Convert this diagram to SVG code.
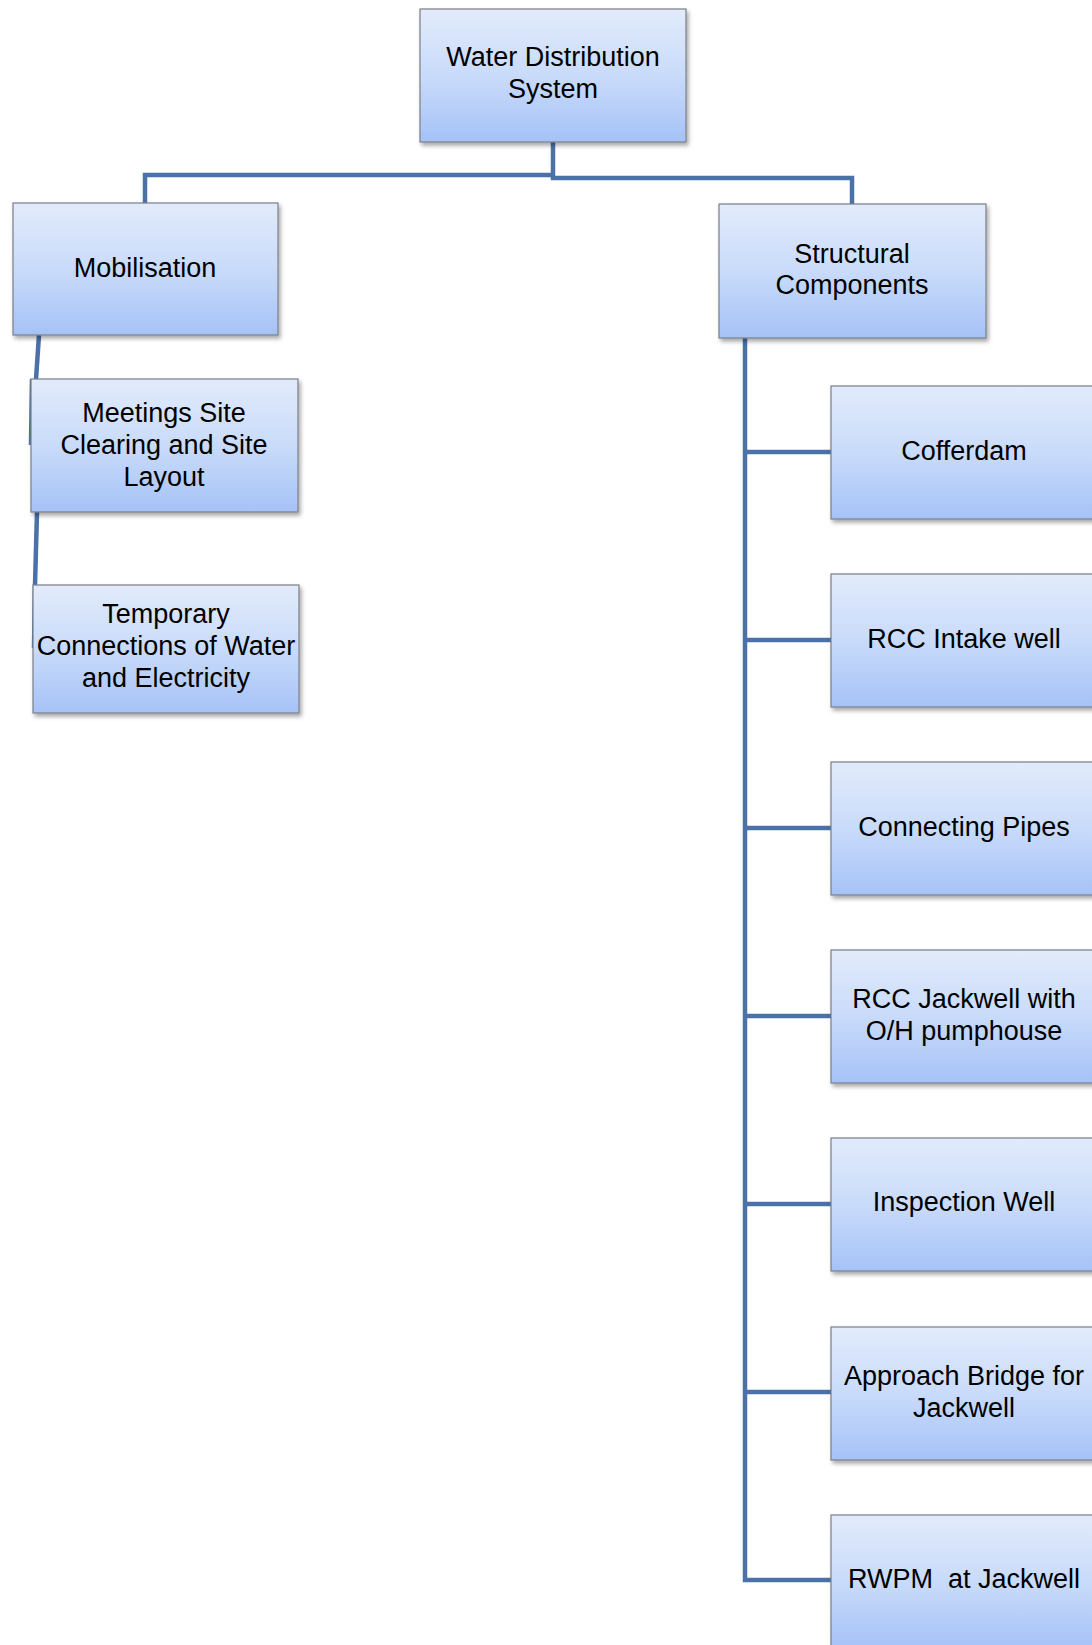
<svg xmlns="http://www.w3.org/2000/svg" width="1092" height="1645" viewBox="0 0 1092 1645">
<defs>
<linearGradient id="g" x1="0" y1="0" x2="0" y2="1">
<stop offset="0" stop-color="#e2ebfb"/>
<stop offset="0.5" stop-color="#c9dbfa"/>
<stop offset="1" stop-color="#a5c2f7"/>
</linearGradient>
<filter id="sh" x="-10%" y="-10%" width="125%" height="130%">
<feDropShadow dx="2" dy="3" stdDeviation="2" flood-color="#000" flood-opacity="0.35"/>
</filter>
</defs>
<style>
.box{fill:url(#g);stroke:#7a7f88;stroke-width:1.2;filter:url(#sh)}
.t{font-family:"Liberation Sans",Arial,sans-serif;font-size:27px;fill:#000;text-anchor:middle;white-space:pre}
.c{fill:none;stroke:#4a71a8;stroke-width:4.5;stroke-linejoin:miter}
</style>
<rect width="1092" height="1645" fill="#fff"/>
<g id="connectors">
<path class="c" d="M145,203 V175 H555"/>
<path class="c" d="M553,142 V178 H852 V204"/>
<path class="c" d="M39,335 L36,379"/>
<path class="c" d="M32,379 L31,445"/>
<path class="c" d="M37,512 L35,585"/>
<path class="c" d="M35,585 L34,648"/>
<path class="c" d="M745,338 V1580 H831"/>
<path class="c" d="M745,452 H831 M745,640 H831 M745,828 H831 M745,1016 H831 M745,1204 H831 M745,1392 H831"/>
</g>
<g id="n-root"><rect class="box" x="420" y="9" width="266" height="133"/><text class="t" x="553" y="66">Water Distribution</text><text class="t" x="553" y="98">System</text></g>
<g id="n-mobilisation"><rect class="box" x="13" y="203" width="265" height="132"/><text class="t" x="145" y="277">Mobilisation</text></g>
<g id="n-meetings"><rect class="box" x="31" y="379" width="267" height="133"/><text class="t" x="164" y="422">Meetings Site</text><text class="t" x="164" y="454">Clearing and Site</text><text class="t" x="164" y="486">Layout</text></g>
<g id="n-temporary"><rect class="box" x="33" y="585" width="266" height="128"/><text class="t" x="166" y="623">Temporary</text><text class="t" x="166" y="655">Connections of Water</text><text class="t" x="166" y="687">and Electricity</text></g>
<g id="n-structural"><rect class="box" x="719" y="204" width="267" height="134"/><text class="t" x="852" y="263">Structural</text><text class="t" x="852" y="294">Components</text></g>
<g id="n-cofferdam"><rect class="box" x="831" y="386" width="267" height="133"/><text class="t" x="964" y="460">Cofferdam</text></g>
<g id="n-intake"><rect class="box" x="831" y="574" width="267" height="133"/><text class="t" x="964" y="648">RCC Intake well</text></g>
<g id="n-pipes"><rect class="box" x="831" y="762" width="267" height="133"/><text class="t" x="964" y="836">Connecting Pipes</text></g>
<g id="n-jackwell"><rect class="box" x="831" y="950" width="267" height="133"/><text class="t" x="964" y="1008">RCC Jackwell with</text><text class="t" x="964" y="1040">O/H pumphouse</text></g>
<g id="n-inspection"><rect class="box" x="831" y="1138" width="267" height="133"/><text class="t" x="964" y="1211">Inspection Well</text></g>
<g id="n-bridge"><rect class="box" x="831" y="1327" width="267" height="133"/><text class="t" x="964" y="1385">Approach Bridge for</text><text class="t" x="964" y="1417">Jackwell</text></g>
<g id="n-rwpm"><rect class="box" x="831" y="1515" width="267" height="133"/><text class="t" x="964" y="1588">RWPM  at Jackwell</text></g>
</svg>
